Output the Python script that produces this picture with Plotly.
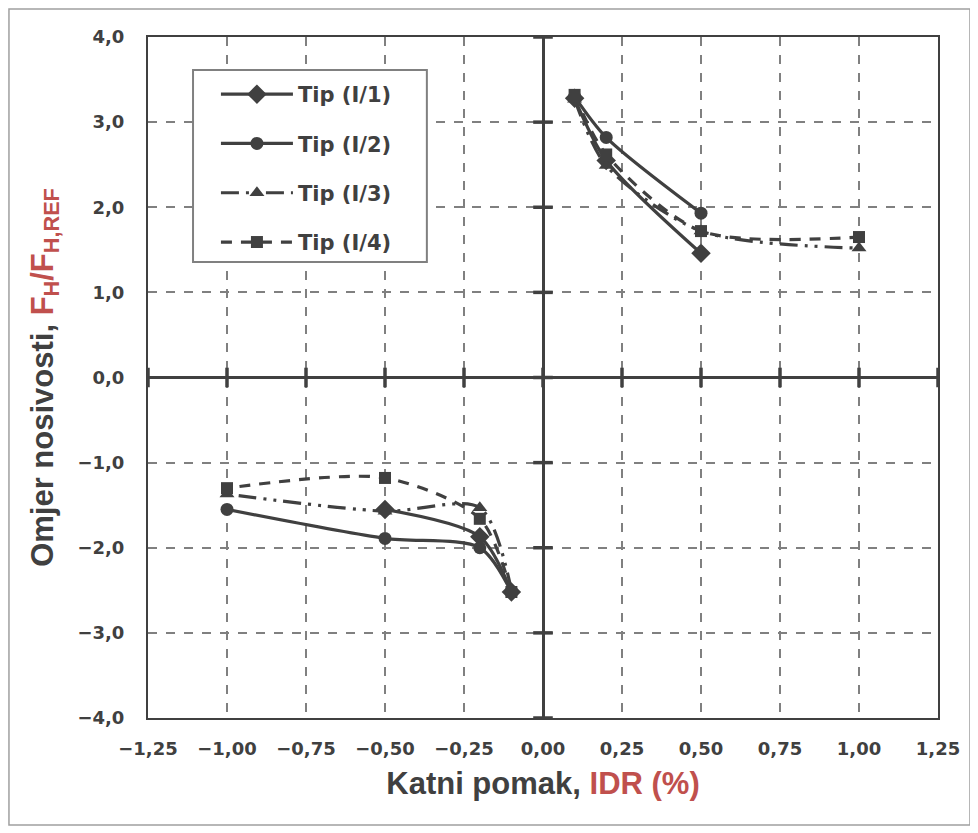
import plotly.graph_objects as go

# data
idr_pos = [0.1, 0.2, 0.5]
idr_pos_long = [0.1, 0.2, 0.5, 1.0]
idr_neg = [-0.1, -0.2, -0.5]
idr_neg_long = [-0.1, -0.2, -0.5, -1.0]

tip1_pos = [3.28, 2.55, 1.46]
tip1_neg = [-2.52, -1.87, -1.55]
tip2_pos = [3.30, 2.82, 1.93]
tip2_neg = [-2.52, -2.00, -1.89, -1.55]
tip3_pos = [3.27, 2.49, 1.72, 1.52]
tip3_neg = [-2.50, -1.53, -1.57, -1.37]
tip4_pos = [3.32, 2.62, 1.72, 1.65]
tip4_neg = [-2.52, -1.66, -1.18, -1.30]

x_ticks = [-1.25, -1.0, -0.75, -0.5, -0.25, 0.0, 0.25, 0.5, 0.75, 1.0, 1.25]
y_ticks = [-4, -3, -2, -1, 0, 1, 2, 3, 4]

names = ["Tip (I/1)", "Tip (I/2)", "Tip (I/3)", "Tip (I/4)"]
symbols = ["diamond", "circle", "triangle-up", "square"]
sizes = [15, 13, 13, 12]
dashes = ["solid", "solid", "18px,7px,3px,7px,3px,7px", "11px,9px"]
series = [
    (idr_pos, tip1_pos, idr_neg, tip1_neg),
    (idr_pos, tip2_pos, idr_neg_long, tip2_neg),
    (idr_pos_long, tip3_pos, idr_neg_long, tip3_neg),
    (idr_pos_long, tip4_pos, idr_neg_long, tip4_neg),
]

col = "#404040"
red = "#c0504d"
font = "Liberation Sans Narrow, Arial Narrow, Liberation Sans, Arial"
wide = "DejaVu Sans, Verdana, sans-serif"

fig = go.Figure()

# tick marks on the crossing zero axes
fig.add_trace(go.Scatter(
    x=x_ticks, y=[0] * len(x_ticks), mode="markers", showlegend=False, hoverinfo="skip",
    marker=dict(symbol="line-ns", size=14, line=dict(color=col, width=3.5)),
))
fig.add_trace(go.Scatter(
    x=[0] * len(y_ticks), y=y_ticks, mode="markers", showlegend=False, hoverinfo="skip",
    marker=dict(symbol="line-ew", size=14, line=dict(color=col, width=3.5)),
))

for i, (xp, yp, xn, yn) in enumerate(series):
    for j, (xx, yy) in enumerate([(xp, yp), (xn, yn)]):
        fig.add_trace(go.Scatter(
            x=xx, y=yy, name=names[i], legendgroup=names[i],
            showlegend=(j == 0), mode="lines+markers",
            line=dict(color=col, width=3.2, dash=dashes[i], shape="spline", smoothing=0.8),
            marker=dict(symbol=symbols[i], size=sizes[i], color=col),
        ))

fig.update_layout(
    width=978, height=833,
    margin=dict(l=140, r=48, t=29, b=123, autoexpand=False),
    paper_bgcolor="white", plot_bgcolor="white",
    separators=",.",
    showlegend=True,
    legend=dict(
        x=0.086, y=0.9457, xanchor="left", yanchor="top",
        bgcolor="rgba(0,0,0,0)", borderwidth=0,
        font=dict(family=wide, size=21, color=col, weight="bold"),
        tracegroupgap=19, itemwidth=72,
    ),
    xaxis=dict(
        range=[-1.25, 1.25], tickvals=x_ticks, tickformat=".2f", automargin=False,
        showgrid=True, gridcolor="#808080", griddash="dash", gridwidth=1.5,
        zeroline=True, zerolinecolor=col, zerolinewidth=3,
        showline=True, linecolor=col, linewidth=2, mirror=True,
        ticks="", ticklabelstandoff=13,
        tickfont=dict(family=wide, size=18, color=col, weight="bold"),
        title=dict(text="Katni pomak, <span style='color:%s'>IDR (%%)</span>" % red,
                   font=dict(family=font, size=31, color=col, weight="bold")),
    ),
    yaxis=dict(
        range=[-4, 4], tickvals=y_ticks, tickformat=".1f", automargin=False,
        showgrid=True, gridcolor="#808080", griddash="dash", gridwidth=1.5,
        zeroline=True, zerolinecolor=col, zerolinewidth=3,
        showline=True, linecolor=col, linewidth=2, mirror=True,
        ticks="", ticklabelstandoff=18,
        tickfont=dict(family=wide, size=18, color=col, weight="bold"),
        title=dict(text="Omjer nosivosti, <span style='color:%s'>F<sub>H</sub>/F<sub>H,REF</sub></span>" % red,
                   font=dict(family=font, size=31, color=col, weight="bold")),
    ),
    shapes=[
        # outer chart border
        dict(type="rect", xref="paper", yref="paper",
             x0=-0.176, x1=1.0405, y0=-0.157, y1=1.041,
             line=dict(color="#a0a0a0", width=1.5)),
        # legend box
        dict(type="rect", xref="paper", yref="paper", layer="above",
             x0=0.057, x1=0.353, y0=0.6696, y1=0.9515,
             fillcolor="white", line=dict(color="#808080", width=2)),
    ],
)

fig.write_html("out.html")
